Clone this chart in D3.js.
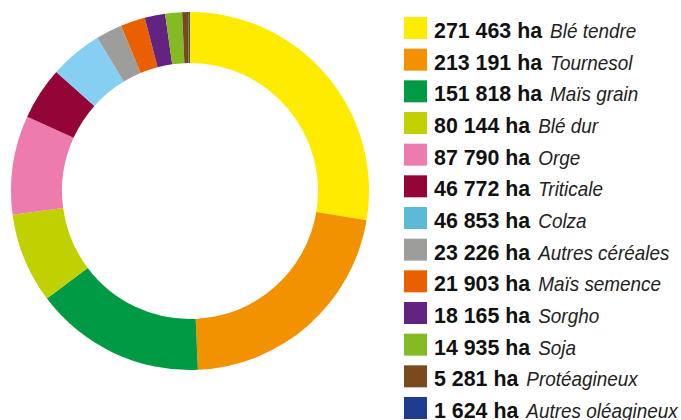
<!DOCTYPE html>
<html>
<head>
<meta charset="utf-8">
<script src="https://d3js.org/d3.v7.min.js"></script>
<style>
  body { margin: 0; background: #fff; }
  svg text { font-family: "Liberation Sans", Arial, sans-serif; }
</style>
</head>
<body>
<div id="chart"></div>
<script>
// surfaces par culture (ha)
var cultures = ["Blé tendre", "Tournesol", "Maïs grain", "Blé dur", "Orge", "Triticale", "Colza",
                "Autres céréales", "Maïs semence", "Sorgho", "Soja", "Protéagineux", "Autres oléagineux"];
var surfaces = [271463, 213191, 151818, 80144, 87790, 46772, 46853, 23226, 21903, 18165, 14935, 5281, 1624];
var couleurs = ["#ffeb00", "#f39200", "#009a44", "#c1d000", "#ee7bad", "#930537", "#5bbad5",
                "#9d9d9c", "#ea6000", "#632380", "#84bb25", "#7a4a1f", "#1d3c8f"];
var couleursAnneau = couleurs.slice();
couleursAnneau[6] = "#86cff2";
couleursAnneau[12] = "#4f5563";

var width = 681, height = 420;

var svg = d3.select("#chart")
  .append("svg")
    .attr("width", width)
    .attr("height", height);

var data = cultures.map(function(c, i) { return {nom: c, val: surfaces[i], i: i}; });

var pie = d3.pie()
  .sort(null)
  .value(function(d) { return d.val; });

var arc = d3.arc()
  .innerRadius(128)
  .outerRadius(179);

var g = svg.append("g")
  .attr("transform", "translate(190,191)");

g.selectAll("path")
  .data(pie(data))
  .enter()
  .append("path")
    .attr("d", arc)
    .attr("fill", function(d) { return couleursAnneau[d.data.i]; });

// légende
var fmt = function(v) { return d3.format(",")(v).replace(/,/g, " "); };

var y = d3.scaleLinear()
  .domain([0, cultures.length - 1])
  .range([17, 397]);

var leg = svg.selectAll(".leg")
  .data(data)
  .enter()
  .append("g")
    .attr("class", "leg")
    .attr("transform", function(d) { return "translate(404," + y(d.i) + ")"; });

leg.append("rect")
  .attr("width", 23)
  .attr("height", 22)
  .attr("fill", function(d) { return couleurs[d.i]; });

var sx = 0.93;
leg.append("text")
  .attr("transform", "translate(30,21) scale(" + sx + ",1)")
  .style("font-size", "23px")
  .style("font-weight", "bold")
  .attr("fill", "#111")
  .text(function(d) { return fmt(d.val) + " ha"; });

leg.each(function(d) {
  var w = d3.select(this).select("text").node().getComputedTextLength() * sx;
  d3.select(this).append("text")
    .attr("transform", "translate(" + (30 + w + 8) + ",21) scale(0.9,1)")
    .style("font-size", "21px")
    .style("font-style", "italic")
    .attr("fill", "#222")
    .text(d.nom);
});
</script>
</body>
</html>
